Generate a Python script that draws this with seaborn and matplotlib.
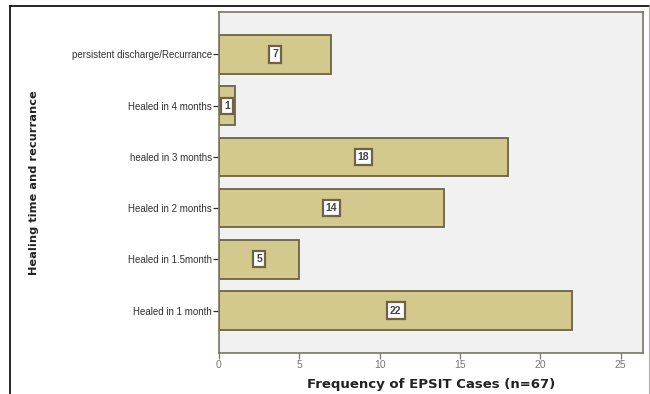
import pandas as pd
import numpy as np
import matplotlib
matplotlib.use('Agg')
import matplotlib.pyplot as plt
import seaborn as sns
from matplotlib.lines import Line2D

# Data (top to bottom)
categories = ['persistent discharge/Recurrance', 'Healed in 4 months',
              'healed in 3 months', 'Healed in 2 months',
              'Healed in 1.5month', 'Healed in 1 month']
counts = [7, 1, 18, 14, 5, 22]
xticks = [0, 5, 10, 15, 20, 25]

df = pd.DataFrame({'category': categories, 'count': counts})

sns.set_style('white')
plt.rcParams['font.family'] = ['Liberation Sans', 'DejaVu Sans']

fig = plt.figure(figsize=(6.5, 3.94), dpi=100)
ax = fig.add_axes([219/650, 1 - 353/394, (643-219)/650, (353-12)/394])

sns.barplot(data=df, y='category', x='count', order=categories, orient='h',
            color='#d3c98c', edgecolor='#6d6446', linewidth=1.3,
            width=0.75, saturation=1, ax=ax)

ax.set_facecolor('#f1f1f1')
for s in ax.spines.values():
    s.set_color('#7a7560')
    s.set_linewidth(1.2)

ax.set_xlim(0, 26.4)
ax.set_ylim(5.83, -0.83)
ax.set_xticks(xticks)
ax.tick_params(axis='both', labelsize=7, colors='#333333', length=4,
               width=0.9, direction='out', bottom=True, left=True, pad=1)
ax.tick_params(axis='x', colors='#777777', labelsize=7.5)

# value boxes in the middle of each bar
for i, v in enumerate(counts):
    ax.text(v / 2, i, str(v), ha='center', va='center', fontsize=7.5,
            color='#444444', fontweight='bold',
            bbox=dict(boxstyle='square,pad=0.3', fc='white', ec='#6d6446', lw=1.6))

ax.set_xlabel('Frequency of EPSIT Cases (n=67)', fontsize=9.5, fontweight='bold',
              family='DejaVu Sans', labelpad=6, color='#222222')
ax.set_ylabel('Healing time and recurrance', fontsize=8.2, fontweight='bold',
              family='DejaVu Sans', color='#222222')
ax.yaxis.set_label_coords(-0.425, 0.5)

# outer frame: black left/top, light grey right
x0, x1, ytop = 9.5 / 650, 649 / 650, 1 - 6 / 394
fig.add_artist(Line2D([x0, x0], [0, ytop], transform=fig.transFigure, color='black', lw=1.2))
fig.add_artist(Line2D([x0, x1], [ytop, ytop], transform=fig.transFigure, color='black', lw=1.2))
fig.add_artist(Line2D([x1, x1], [0, ytop], transform=fig.transFigure, color='#b0b0b0', lw=0.8))

fig.savefig('out.png', dpi=100)
